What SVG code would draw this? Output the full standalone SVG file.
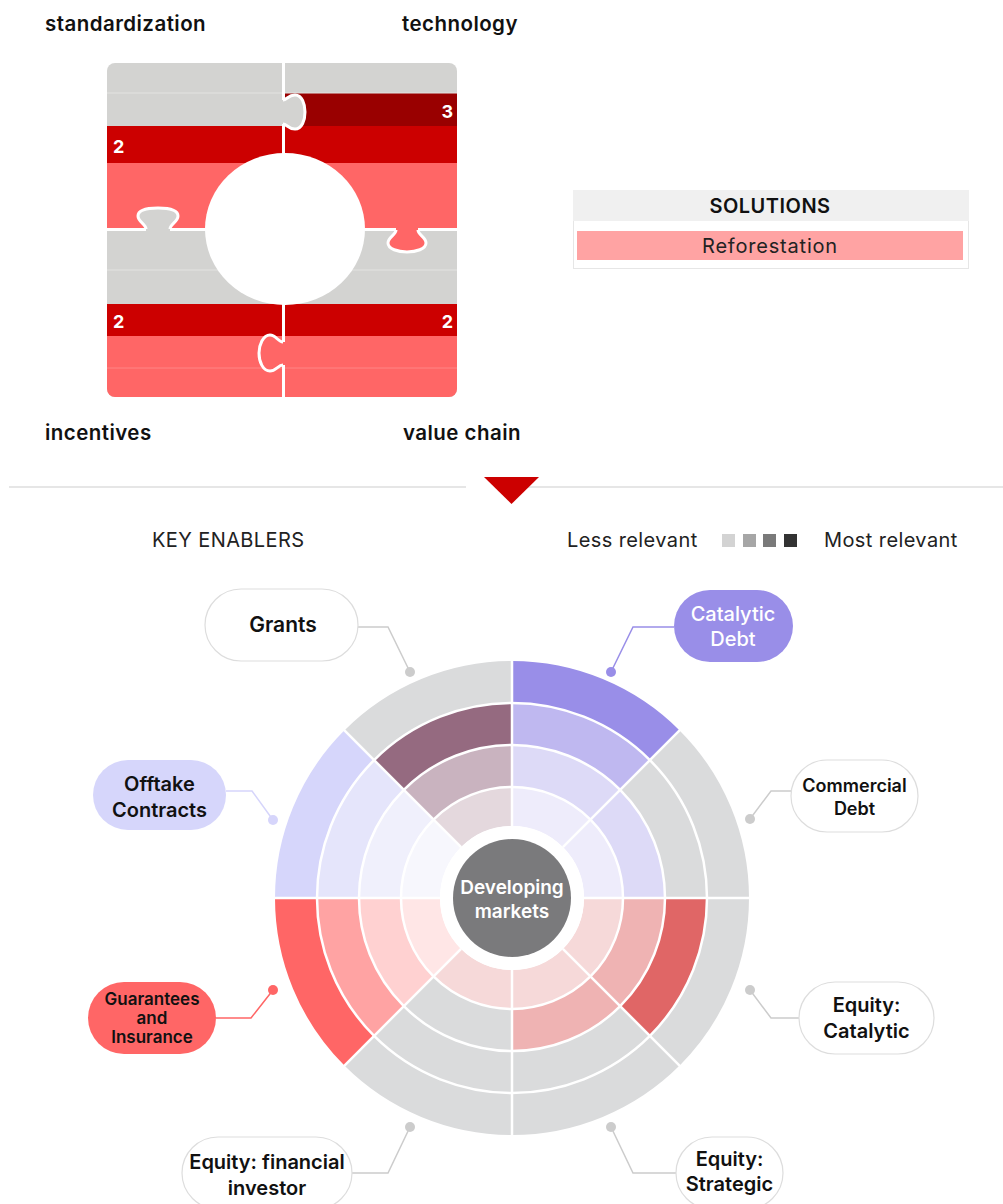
<svg xmlns="http://www.w3.org/2000/svg" width="1003" height="1204" viewBox="0 0 1003 1204">
<defs>
<style>
text{font-family:Inter,"Liberation Sans",sans-serif;}
.h{font-size:20.5px;font-weight:600;fill:#111;letter-spacing:0.45px;}
.num{font-size:18px;font-weight:700;fill:#fff;}
.lbl{font-size:20px;font-weight:600;fill:#111;text-anchor:middle;}
.leg{font-size:20px;font-weight:400;fill:#222;letter-spacing:0.4px;}
.pill{stroke:#dddddd;stroke-width:1.2;}
.con{fill:none;stroke-width:1.5;}
.sep{stroke:#fff;stroke-width:2.5;fill:none;}
.knob{fill:none;stroke:#fff;stroke-width:3;}
.r1{stroke-width:39;fill:none;stroke-dasharray:71.86 503.05;}
.r2{stroke-width:42;fill:none;stroke-dasharray:103.67 725.71;}
.r3{stroke-width:42;fill:none;stroke-dasharray:136.66 956.61;}
.r4{stroke-width:42;fill:none;stroke-dasharray:169.65 1187.52;}
</style>
<clipPath id="sq"><rect x="107" y="63" width="350" height="334" rx="8"/></clipPath>
</defs>
<rect width="1003" height="1204" fill="#fff"/>

<!-- Puzzle -->
<g id="puzzle">
<g clip-path="url(#sq)">
<rect x="107" y="63" width="350" height="334" fill="#d3d3d1"/>
<rect x="107" y="126" width="177" height="37" fill="#cc0000"/>
<rect x="107" y="163" width="177" height="67" fill="#ff6666"/>
<rect x="284" y="93" width="173" height="33" fill="#990000"/>
<rect x="284" y="126" width="173" height="37" fill="#cc0000"/>
<rect x="284" y="163" width="173" height="67" fill="#ff6666"/>
<rect x="107" y="304" width="350" height="32" fill="#cc0000"/>
<rect x="107" y="336" width="350" height="61" fill="#ff6666"/>
<line x1="107" y1="93" x2="284" y2="93" stroke="#e3e3e1" stroke-width="1"/>
<line x1="284" y1="93" x2="457" y2="93" stroke="#e3e3e1" stroke-width="1"/>
<line x1="107" y1="270" x2="457" y2="270" stroke="#e3e3e1" stroke-width="1"/>
<line x1="107" y1="368" x2="457" y2="368" stroke="#ff8585" stroke-width="1"/>
<line x1="283.5" y1="60" x2="283.5" y2="400" stroke="#fff" stroke-width="3"/>
<line x1="104" y1="229.5" x2="460" y2="229.5" stroke="#fff" stroke-width="3"/>
<path d="M281 100 H283 C287 100 288 95 295 95 C302 95 305 104 305 112 C305 120 302 129 295 129 C288 129 287 124 283 124 H281 Z" fill="#d3d3d1"/>
<path class="knob" d="M283 100 C287 100 288 95 295 95 C302 95 305 104 305 112 C305 120 302 129 295 129 C288 129 287 124 283 124"/>
<path d="M146 232 V229 C146 224 138 222 138 216 C138 210 148 208 158 208 C168 208 178 210 178 216 C178 222 170 224 170 229 V232 Z" fill="#d3d3d1"/>
<path class="knob" d="M146 229 C146 224 138 222 138 216 C138 210 148 208 158 208 C168 208 178 210 178 216 C178 222 170 224 170 229"/>
<path d="M396 227 V230 C396 235 388 237 388 243 C388 249 398 252 407 252 C416 252 426 249 426 243 C426 237 418 235 418 230 V227 Z" fill="#ff6666"/>
<path class="knob" d="M396 230 C396 235 388 237 388 243 C388 249 398 252 407 252 C416 252 426 249 426 243 C426 237 418 235 418 230"/>
<path d="M286 342 H283 C278 342 276 335 270 335 C263 335 259 345 259 353 C259 362 263 371 270 371 C276 371 278 365 283 365 H286 Z" fill="#ff6666"/>
<path class="knob" d="M283 342 C278 342 276 335 270 335 C263 335 259 345 259 353 C259 362 263 371 270 371 C276 371 278 365 283 365"/>
<ellipse cx="285" cy="229" rx="80" ry="76" fill="#fff"/>
</g>
<text class="num" x="113" y="153">2</text>
<text class="num" x="453" y="118" text-anchor="end">3</text>
<text class="num" x="113" y="328">2</text>
<text class="num" x="453" y="328" text-anchor="end">2</text>
<text class="h" x="45" y="31">standardization</text>
<text class="h" x="402" y="31">technology</text>
<text class="h" x="45" y="440">incentives</text>
<text class="h" x="403" y="440">value chain</text>
</g>

<!-- Solutions -->
<g id="solutions">
<rect x="573.5" y="190.5" width="395" height="78" fill="#fff" stroke="#e6e6e6"/>
<rect x="573" y="190" width="396" height="31" fill="#f0f0f0"/>
<text x="770" y="213" text-anchor="middle" style="font-size:20px;font-weight:600;fill:#111;letter-spacing:0.5px">SOLUTIONS</text>
<rect x="577" y="231" width="386" height="29" fill="#ffa3a3"/>
<text x="770" y="253" text-anchor="middle" style="font-size:20px;font-weight:400;fill:#222;letter-spacing:0.8px">Reforestation</text>
</g>

<!-- Divider -->
<g id="divider">
<line x1="9" y1="487" x2="466" y2="487" stroke="#e6e6e6" stroke-width="2"/>
<line x1="528" y1="487" x2="1003" y2="487" stroke="#e6e6e6" stroke-width="2"/>
<polygon points="484,477 539,477 511.5,504" fill="#cc0000"/>
</g>

<!-- Legend -->
<g id="legend">
<text class="leg" x="152" y="547">KEY ENABLERS</text>
<text class="leg" x="567" y="547">Less relevant</text>
<rect x="722" y="534" width="13" height="13" fill="#d3d3d3"/>
<rect x="743" y="534" width="13" height="13" fill="#a6a6a6"/>
<rect x="763" y="534" width="13" height="13" fill="#7a7a7a"/>
<rect x="784" y="534" width="13" height="13" fill="#333333"/>
<text class="leg" x="824" y="547">Most relevant</text>
</g>

<!-- Radial chart -->
<g id="chart" transform="translate(512 898)">
<g id="s-catalytic-debt" transform="rotate(-90)">
<circle class="r1" r="91.5" stroke="#eeecfb"/>
<circle class="r2" r="132" stroke="#dddaf7"/>
<circle class="r3" r="174" stroke="#bfb8f0"/>
<circle class="r4" r="216" stroke="#998ee8"/>
</g>
<g id="s-commercial-debt" transform="rotate(-45)">
<circle class="r1" r="91.5" stroke="#eeecfb"/>
<circle class="r2" r="132" stroke="#dddaf7"/>
<circle class="r3" r="174" stroke="#dadbdc"/>
<circle class="r4" r="216" stroke="#dadbdc"/>
</g>
<g id="s-equity-catalytic" transform="rotate(0)">
<circle class="r1" r="91.5" stroke="#f6d9d9"/>
<circle class="r2" r="132" stroke="#efb3b3"/>
<circle class="r3" r="174" stroke="#e06666"/>
<circle class="r4" r="216" stroke="#dadbdc"/>
</g>
<g id="s-equity-strategic" transform="rotate(45)">
<circle class="r1" r="91.5" stroke="#f6d9d9"/>
<circle class="r2" r="132" stroke="#efb3b3"/>
<circle class="r3" r="174" stroke="#dadbdc"/>
<circle class="r4" r="216" stroke="#dadbdc"/>
</g>
<g id="s-equity-financial" transform="rotate(90)">
<circle class="r1" r="91.5" stroke="#f6d9d9"/>
<circle class="r2" r="132" stroke="#dadbdc"/>
<circle class="r3" r="174" stroke="#dadbdc"/>
<circle class="r4" r="216" stroke="#dadbdc"/>
</g>
<g id="s-guarantees" transform="rotate(135)">
<circle class="r1" r="91.5" stroke="#ffe6e6"/>
<circle class="r2" r="132" stroke="#ffd1d1"/>
<circle class="r3" r="174" stroke="#ffa3a3"/>
<circle class="r4" r="216" stroke="#ff6666"/>
</g>
<g id="s-offtake" transform="rotate(180)">
<circle class="r1" r="91.5" stroke="#f7f7fd"/>
<circle class="r2" r="132" stroke="#f0f0fc"/>
<circle class="r3" r="174" stroke="#e5e5fb"/>
<circle class="r4" r="216" stroke="#d6d6fb"/>
</g>
<g id="s-grants" transform="rotate(225)">
<circle class="r1" r="91.5" stroke="#e4d8dd"/>
<circle class="r2" r="132" stroke="#c9b3bf"/>
<circle class="r3" r="174" stroke="#956a80"/>
<circle class="r4" r="216" stroke="#dadbdc"/>
</g>
<g class="sep">
<circle r="111"/><circle r="153"/><circle r="195"/>
<line x1="0" y1="-72" x2="0" y2="-238"/>
<line x1="0" y1="72" x2="0" y2="238"/>
<line x1="72" y1="0" x2="238" y2="0"/>
<line x1="-72" y1="0" x2="-238" y2="0"/>
<line x1="50.9" y1="-50.9" x2="168.3" y2="-168.3"/>
<line x1="-50.9" y1="-50.9" x2="-168.3" y2="-168.3"/>
<line x1="50.9" y1="50.9" x2="168.3" y2="168.3"/>
<line x1="-50.9" y1="50.9" x2="-168.3" y2="168.3"/>
</g>
<circle r="72" fill="#fff"/>
<circle r="59" fill="#7a7a7c"/>
<text x="0" y="-4" text-anchor="middle" style="font-size:19px;font-weight:600;fill:#fff">Developing</text>
<text x="0" y="20" text-anchor="middle" style="font-size:19px;font-weight:600;fill:#fff">markets</text>
</g>

<!-- Connectors -->
<g id="connectors">
<path class="con" stroke="#cccccc" d="M358 627 H388 L410 672"/>
<circle cx="410" cy="672" r="5" fill="#cccccc"/>
<path class="con" stroke="#998ee8" d="M674 627 H633 L611 672"/>
<circle cx="611" cy="672" r="5" fill="#998ee8"/>
<path class="con" stroke="#d6d5fb" d="M226 791 H252 L273 820"/>
<circle cx="273" cy="820" r="5" fill="#d6d5fb"/>
<path class="con" stroke="#cccccc" d="M791 791 H771 L750 819"/>
<circle cx="750" cy="819" r="5" fill="#cccccc"/>
<path class="con" stroke="#ff6666" d="M216 1018 H251 L273 990"/>
<circle cx="273" cy="990" r="5" fill="#ff6666"/>
<path class="con" stroke="#cccccc" d="M799 1018 H771 L750 990"/>
<circle cx="750" cy="990" r="5" fill="#cccccc"/>
<path class="con" stroke="#cccccc" d="M352 1173 H388 L410 1127"/>
<circle cx="410" cy="1127" r="5" fill="#cccccc"/>
<path class="con" stroke="#cccccc" d="M676 1173 H633 L611 1127"/>
<circle cx="611" cy="1127" r="5" fill="#cccccc"/>
</g>

<!-- Label nodes -->
<g id="n-grants">
<rect class="pill" x="205" y="589" width="153" height="72" rx="36" fill="#fff"/>
<text class="lbl" x="283" y="632" style="font-size:21px">Grants</text>
</g>
<g id="n-catalytic-debt">
<rect x="674" y="590" width="119" height="72" rx="36" fill="#998ee8"/>
<text class="lbl" x="733" y="621" style="fill:#fff;font-weight:500">Catalytic</text>
<text class="lbl" x="733" y="646" style="fill:#fff;font-weight:500">Debt</text>
</g>
<g id="n-offtake">
<rect x="93" y="760" width="133" height="70" rx="35" fill="#d6d6fb"/>
<text class="lbl" x="159.5" y="791">Offtake</text>
<text class="lbl" x="159.5" y="817">Contracts</text>
</g>
<g id="n-commercial-debt">
<rect class="pill" x="791" y="760" width="127" height="72" rx="36" fill="#fff"/>
<text class="lbl" x="854.5" y="792" style="font-size:18px">Commercial</text>
<text class="lbl" x="854.5" y="815" style="font-size:18px">Debt</text>
</g>
<g id="n-guarantees">
<rect x="88" y="982" width="128" height="72" rx="36" fill="#ff6666"/>
<text class="lbl" x="152" y="1005" style="font-size:17px">Guarantees</text>
<text class="lbl" x="152" y="1024" style="font-size:17px">and</text>
<text class="lbl" x="152" y="1043" style="font-size:17px">Insurance</text>
</g>
<g id="n-equity-catalytic">
<rect class="pill" x="799" y="982" width="135" height="72" rx="36" fill="#fff"/>
<text class="lbl" x="866.5" y="1012">Equity:</text>
<text class="lbl" x="866.5" y="1038">Catalytic</text>
</g>
<g id="n-equity-financial">
<rect class="pill" x="182" y="1137" width="170" height="72" rx="36" fill="#fff"/>
<text class="lbl" x="267" y="1169">Equity: financial</text>
<text class="lbl" x="267" y="1195">investor</text>
</g>
<g id="n-equity-strategic">
<rect class="pill" x="676" y="1137" width="107" height="72" rx="36" fill="#fff"/>
<text class="lbl" x="729.5" y="1166">Equity:</text>
<text class="lbl" x="729.5" y="1191">Strategic</text>
</g>
</svg>
